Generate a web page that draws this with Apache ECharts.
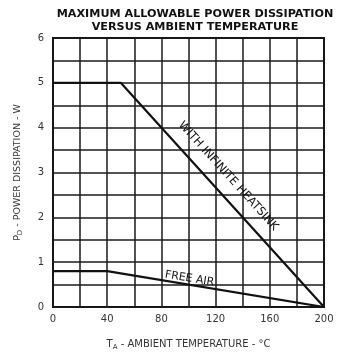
<!DOCTYPE html>
<html>
<head>
<meta charset="utf-8">
<script src="https://cdn.jsdelivr.net/npm/echarts@6/dist/echarts.min.js"></script>
<style>
html,body{margin:0;padding:0;background:#fff;}
#chart{width:337px;height:353px;}
</style>
</head>
<body>
<div id="chart"></div>
<script>
// Derating curves: power dissipation (W) vs ambient temperature (°C)
var heatsinkTemp = [0, 50, 200];
var heatsinkPower = [5, 5, 0];
var freeAirTemp = [0, 40, 200];
var freeAirPower = [0.8, 0.8, 0];
var xTicks = [0, 40, 80, 120, 160, 200];
var yTicks = [0, 1, 2, 3, 4, 5, 6];

function pairs(xs, ys) {
  return xs.map(function (x, i) { return [x, ys[i]]; });
}

var chart = echarts.init(document.getElementById('chart'));
var font = '"DejaVu Sans", "Liberation Sans", sans-serif';

chart.setOption({
  animation: false,
  backgroundColor: '#fff',
  title: {
    text: 'MAXIMUM ALLOWABLE POWER DISSIPATION\nVERSUS AMBIENT TEMPERATURE',
    left: 190,
    top: 3,
    textAlign: 'center',
    textStyle: { fontFamily: font, fontSize: 11.2, fontWeight: 'bold', color: '#111', lineHeight: 13 }
  },
  grid: {
    left: 53, right: 13, top: 38, bottom: 46,
    outerBoundsMode: 'none',
    show: true, borderColor: '#111', borderWidth: 2
  },
  xAxis: {
    type: 'value', min: 0, max: 200, interval: 20,
    axisLine: { show: false }, axisTick: { show: false },
    splitLine: { lineStyle: { color: '#1a1a1a', width: 1.5 } },
    axisLabel: {
      margin: 7, color: '#333', fontFamily: font, fontSize: 10,
      formatter: function (v) { return xTicks.indexOf(v) >= 0 ? String(v) : ''; }
    },
    name: '{t|T}{s|A}{t| - AMBIENT TEMPERATURE - °C}',
    nameLocation: 'middle', nameGap: 31,
    nameTextStyle: {
      rich: {
        t: { fontFamily: font, fontSize: 10, color: '#333' },
        s: { fontFamily: font, fontSize: 7, color: '#333', verticalAlign: 'bottom', padding: [6, 0, 0, 0] }
      }
    }
  },
  yAxis: {
    type: 'value', min: 0, max: 6, interval: 0.5,
    axisLine: { show: false }, axisTick: { show: false },
    splitLine: { lineStyle: { color: '#1a1a1a', width: 1.5 } },
    axisLabel: {
      margin: 9, color: '#333', fontFamily: font, fontSize: 10,
      formatter: function (v) { return yTicks.indexOf(v) >= 0 ? String(v) : ''; }
    },
    name: '{t|P}{s|D}{t| - POWER DISSIPATION - W}',
    nameLocation: 'middle', nameGap: 29,
    nameTextStyle: {
      rich: {
        t: { fontFamily: font, fontSize: 9.5, color: '#333' },
        s: { fontFamily: font, fontSize: 7, color: '#333', verticalAlign: 'bottom', padding: [6, 0, 0, 0] }
      }
    }
  },
  series: [
    {
      name: 'WITH INFINITE HEATSINK', type: 'line', showSymbol: false,
      data: pairs(heatsinkTemp, heatsinkPower),
      lineStyle: { color: '#111', width: 2.2 }
    },
    {
      name: 'FREE AIR', type: 'line', showSymbol: false,
      data: pairs(freeAirTemp, freeAirPower),
      lineStyle: { color: '#111', width: 2.2 }
    }
  ]
});

// Curve captions placed alongside their lines
function caption(text, xs, ys, atX, offset, size) {
  var i = 0;
  while (i < xs.length - 2 && atX > xs[i + 1]) i++;
  var t = (atX - xs[i]) / (xs[i + 1] - xs[i]);
  var atY = ys[i] + t * (ys[i + 1] - ys[i]);
  var p0 = chart.convertToPixel({ gridIndex: 0 }, [xs[i], ys[i]]);
  var p1 = chart.convertToPixel({ gridIndex: 0 }, [xs[i + 1], ys[i + 1]]);
  var p = chart.convertToPixel({ gridIndex: 0 }, [atX, atY]);
  var dx = p1[0] - p0[0], dy = p1[1] - p0[1];
  var len = Math.sqrt(dx * dx + dy * dy);
  var nx = dy / len, ny = -dx / len; // normal pointing above-right of the line
  return {
    type: 'text',
    x: p[0] + nx * offset, y: p[1] + ny * offset,
    rotation: -Math.atan2(dy, dx),
    style: {
      text: text, fill: '#111', font: size + 'px ' + font,
      textAlign: 'center', textVerticalAlign: 'middle'
    }
  };
}

chart.setOption({
  graphic: [
    caption('WITH INFINITE HEATSINK', heatsinkTemp, heatsinkPower, 120, 17, 11.5),
    caption('FREE AIR', freeAirTemp, freeAirPower, 100, 6, 11)
  ]
});
</script>
</body>
</html>
